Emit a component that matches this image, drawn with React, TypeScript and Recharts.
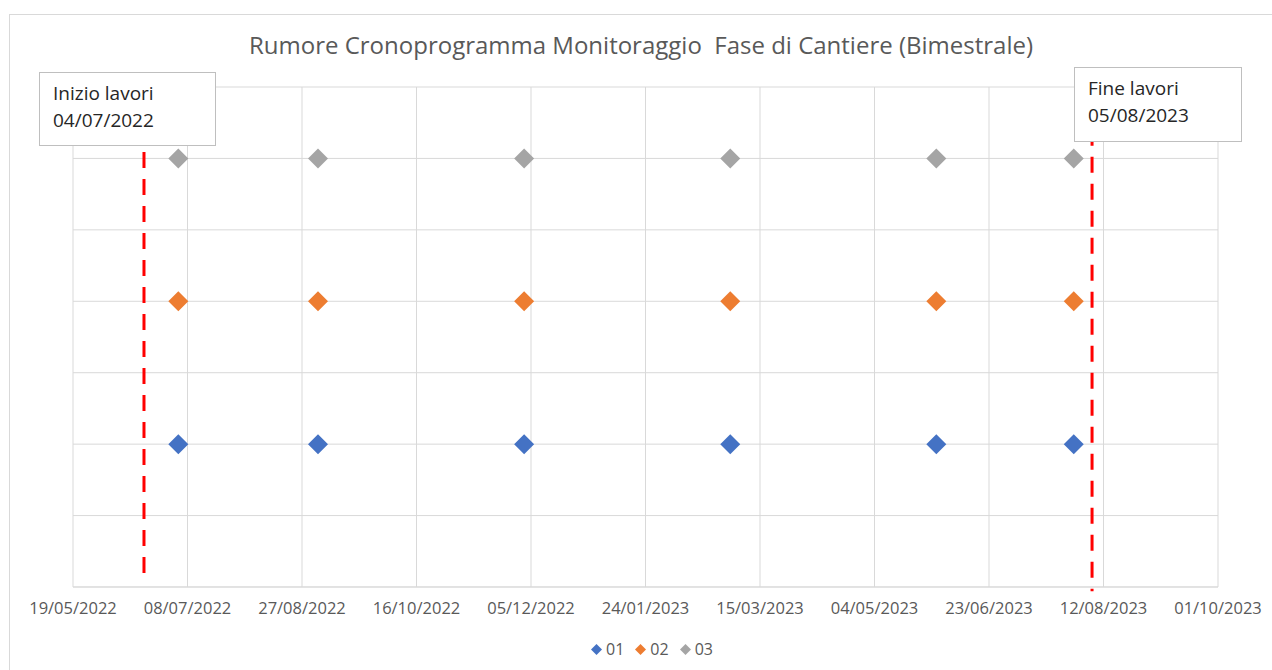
import {
  CartesianGrid,
  Legend,
  ReferenceLine,
  Scatter,
  ScatterChart,
  XAxis,
  YAxis,
} from "recharts";

const tickLabels = [
  "19/05/2022",
  "08/07/2022",
  "27/08/2022",
  "16/10/2022",
  "05/12/2022",
  "24/01/2023",
  "15/03/2023",
  "04/05/2023",
  "23/06/2023",
  "12/08/2023",
  "01/10/2023",
];

// monitoring campaigns (bimestrale)
const campaignDates = [
  "04/07/2022",
  "03/09/2022",
  "02/12/2022",
  "02/03/2023",
  "31/05/2023",
  "30/07/2023",
];

const seriesNames = ["01", "02", "03"];
const seriesLevels = [1, 2, 3];
const seriesColors = ["#4472C4", "#ED7D31", "#A5A5A5"];

const yTicks = [0, 0.5, 1, 1.5, 2, 2.5, 3, 3.5];

// where the dashed markers sit on the time axis
const startLine = "19/06/2022";
const endLine = "07/08/2023";
const startLabel = ["Inizio lavori", "04/07/2022"];
const endLabel = ["Fine lavori", "05/08/2023"];

const FONT = "'Open Sans', 'Noto Sans', sans-serif";

function parseDate(s: string) {
  const [d, m, y] = s.split("/").map(Number);
  return Date.UTC(y, m - 1, d);
}

function formatDate(t: number) {
  const d = new Date(t);
  const dd = String(d.getUTCDate()).padStart(2, "0");
  const mm = String(d.getUTCMonth() + 1).padStart(2, "0");
  return `${dd}/${mm}/${d.getUTCFullYear()}`;
}

const xTicks = tickLabels.map(parseDate);

const series = seriesNames.map((name, i) => ({
  name,
  color: seriesColors[i],
  data: campaignDates.map((s) => ({ x: parseDate(s), y: seriesLevels[i] })),
}));

const Diamond = (props: any) => {
  const { cx, cy, fill } = props;
  const r = 10;
  return (
    <polygon
      points={`${cx},${cy - r} ${cx + r},${cy} ${cx},${cy + r} ${cx - r},${cy}`}
      fill={fill}
    />
  );
};

const LegendContent = () => (
  <div
    style={{
      display: "flex",
      justifyContent: "center",
      gap: 11,
      paddingLeft: 22,
      fontFamily: FONT,
      fontSize: 16,
      color: "#595959",
    }}
  >
    {series.map((s) => (
      <span key={s.name} style={{ display: "flex", alignItems: "center" }}>
        <svg width={11} height={11} style={{ marginRight: 4 }}>
          <polygon points="5.5,0 11,5.5 5.5,11 0,5.5" fill={s.color} />
        </svg>
        {s.name}
      </span>
    ))}
  </div>
);

const boxStyle: React.CSSProperties = {
  position: "absolute",
  background: "#fff",
  border: "1px solid #bfbfbf",
  fontFamily: FONT,
  fontSize: 19,
  lineHeight: "27px",
  color: "#262626",
  boxSizing: "border-box",
  zIndex: 2,
};

export default function App() {
  return (
    <div
      style={{
        position: "absolute",
        left: 9,
        top: 14,
        width: 1263,
        height: 656,
        borderLeft: "1px solid #d9d9d9",
        borderTop: "1px solid #d9d9d9",
        boxSizing: "border-box",
        background: "#fff",
      }}
    >
      <div
        style={{
          position: "absolute",
          left: 0,
          width: 1262,
          top: 13,
          textAlign: "center",
          fontFamily: FONT,
          fontSize: 24,
          color: "#595959",
          whiteSpace: "pre",
        }}
      >
        {"Rumore Cronoprogramma Monitoraggio  Fase di Cantiere (Bimestrale)"}
      </div>
      <ScatterChart
        width={1262}
        height={655}
        margin={{ top: 72, right: 54, left: 63, bottom: 53 }}
      >
        <CartesianGrid stroke="#d9d9d9" />
        <XAxis
          type="number"
          dataKey="x"
          domain={[xTicks[0], xTicks[xTicks.length - 1]]}
          ticks={xTicks}
          tickFormatter={formatDate}
          height={30}
          stroke="#d9d9d9"
          tickLine={false}
          tickMargin={9}
          tick={{ fill: "#595959", fontSize: 16.5, fontFamily: FONT }}
          interval={0}
        />
        <YAxis type="number" dataKey="y" domain={[0, 3.5]} ticks={yTicks} hide />
        {series.map((s) => (
          <Scatter
            key={s.name}
            name={s.name}
            data={s.data}
            fill={s.color}
            shape={Diamond}
            isAnimationActive={false}
          />
        ))}
        <ReferenceLine
          segment={[
            { x: parseDate(startLine), y: 3.045 },
            { x: parseDate(startLine), y: 0.028 },
          ]}
          stroke="#ff0000"
          strokeWidth={3}
          strokeDasharray="16 11"
          ifOverflow="visible"
        />
        <ReferenceLine
          segment={[
            { x: parseDate(endLine), y: 3.2 },
            { x: parseDate(endLine), y: -0.03 },
          ]}
          stroke="#ff0000"
          strokeWidth={3}
          strokeDasharray="16 11"
          ifOverflow="visible"
        />
        <Legend
          verticalAlign="middle"
          align="center"
          layout="horizontal"
          content={<LegendContent />}
          wrapperStyle={{ top: 623, left: 0, width: 1262 }}
        />
      </ScatterChart>
      <div style={{ ...boxStyle, left: 29, top: 57, width: 177, height: 74, padding: "7px 0 0 13px" }}>
        {startLabel[0]}
        <br />
        {startLabel[1]}
      </div>
      <div style={{ ...boxStyle, left: 1064, top: 52, width: 168, height: 75, padding: "7px 0 0 13px" }}>
        {endLabel[0]}
        <br />
        {endLabel[1]}
      </div>
    </div>
  );
}
